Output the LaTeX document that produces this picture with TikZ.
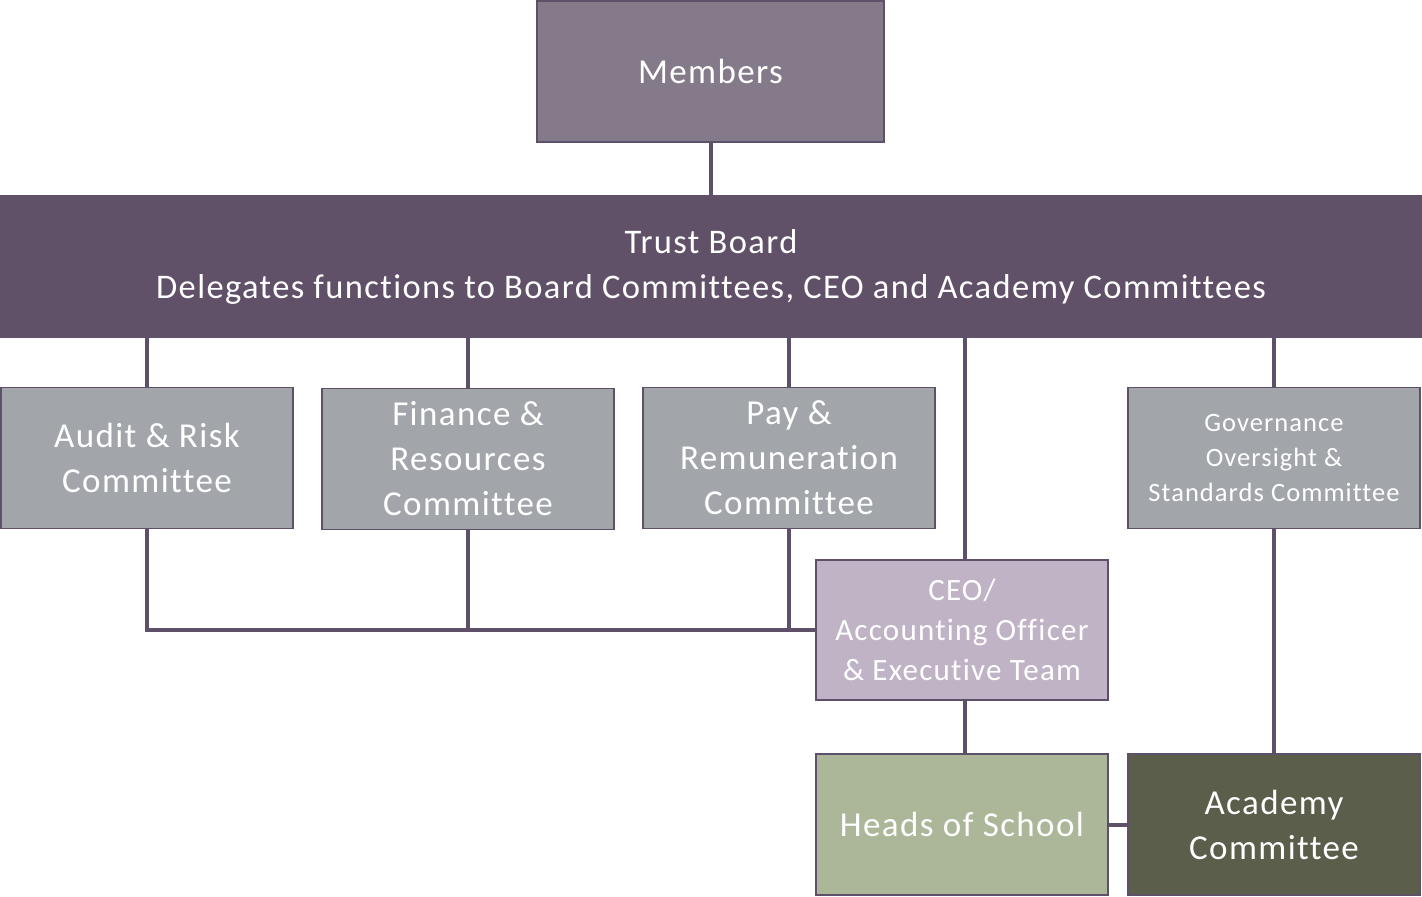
\documentclass[tikz,border=0pt]{standalone}
\usepackage{fontspec}
\setmainfont{Carlito}[Ligatures=NoCommon, LetterSpace=4]
\definecolor{edgecol}{HTML}{5E5068}
\definecolor{memfill}{HTML}{857A8A}
\definecolor{boardfill}{HTML}{605068}
\definecolor{grayfill}{HTML}{A2A6AA}
\definecolor{ceofill}{HTML}{C0B3C6}
\definecolor{headsfill}{HTML}{ABB798}
\definecolor{acadfill}{HTML}{5A5E4A}
\tikzset{
  box/.style={rectangle, draw=edgecol, line width=1.5pt, inner sep=0pt, align=center, text=white,
    minimum width=292pt, minimum height=141pt},
  conn/.style={draw=edgecol, line width=4pt},
  fbig/.style={font=\fontsize{35}{45}\selectfont},
  fmid/.style={font=\fontsize{31}{40}\selectfont},
  fsmall/.style={font=\fontsize{26.5}{35}\selectfont},
}
\begin{document}
\begin{tikzpicture}[x=1pt,y=-1pt]
\useasboundingbox (0,0) rectangle (1422,897);
\node[box, fbig, fill=memfill, minimum width=347pt] (members) at (710.5,71.5) {Members};
\node[box, fill=boardfill, draw=boardfill, minimum width=1422pt, font=\fontsize{34.5}{45}\selectfont] (board) at (711,266.5)
  {Trust Board\\Delegates functions to Board Committees, CEO and Academy Committees};
\node[box, fbig, fill=grayfill] (audit) at (147,458) {Audit \& Risk\\Committee};
\node[box, fbig, fill=grayfill] (fin) at (468,459) {Finance \&\\Resources\\Committee};
\node[box, fbig, fill=grayfill] (pay) at (789,458) {Pay \&\\Remuneration\\Committee};
\node[box, fsmall, fill=grayfill] (gov) at (1274,458) {Governance\\Oversight \&\\Standards Committee};
\node[box, fmid, fill=ceofill, minimum height=140pt] (ceo) at (962,630) {CEO/\\Accounting Officer\\\& Executive Team};
\node[box, fbig, fill=headsfill] (heads) at (962,824.5) {Heads of School};
\node[box, fbig, fill=acadfill] (acad) at (1274,824.5) {Academy\\Committee};

\draw[conn] (members.south) -- (board.north -| members.south);
\draw[conn] (audit.north) -- (audit.north |- board.south);
\draw[conn] (fin.north) -- (fin.north |- board.south);
\draw[conn] (pay.north) -- (pay.north |- board.south);
\draw[conn] (gov.north) -- (gov.north |- board.south);
\draw[conn] ([xshift=3pt]ceo.north) -- ([xshift=3pt]ceo.north |- board.south);
\draw[conn] (audit.south) -- (audit.south |- ceo.west) -- (ceo.west);
\draw[conn] (fin.south) -- (fin.south |- ceo.west);
\draw[conn] (pay.south) -- (pay.south |- ceo.west);
\draw[conn] ([xshift=3pt]ceo.south) -- ([xshift=3pt]heads.north);
\draw[conn] (heads.east) -- (acad.west);
\draw[conn] (gov.south) -- (acad.north);
\end{tikzpicture}
\end{document}
